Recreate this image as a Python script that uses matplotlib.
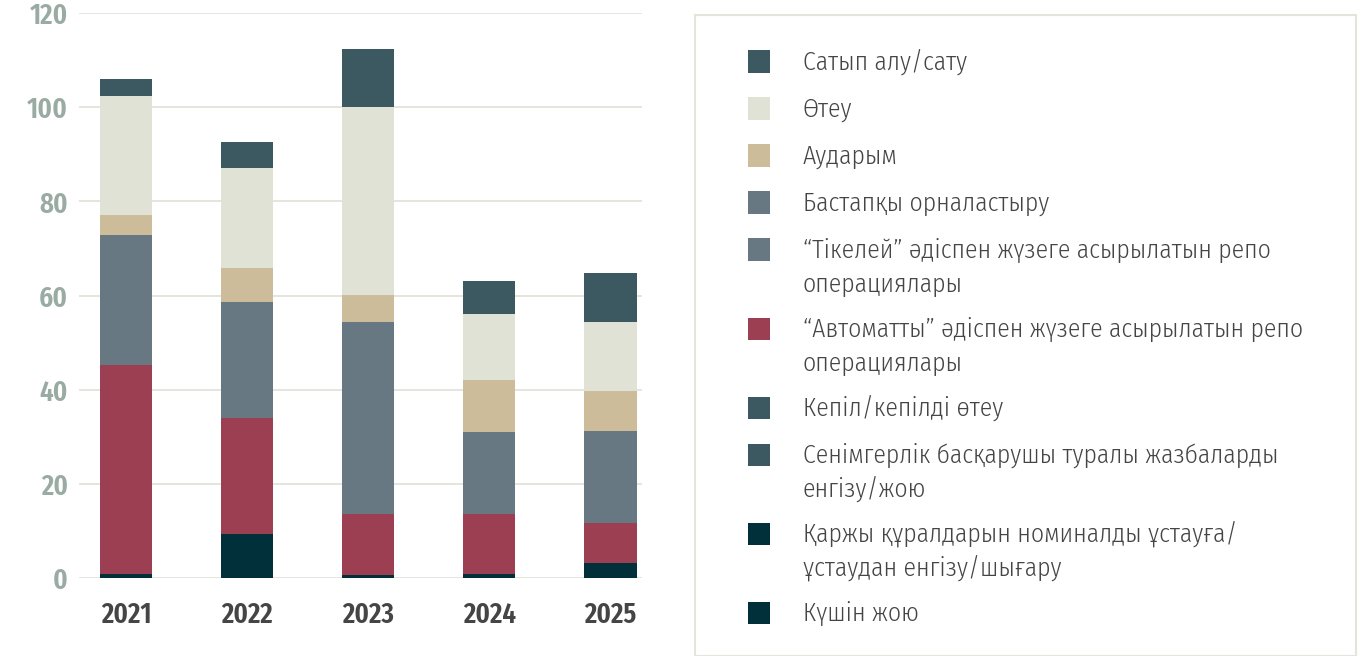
import matplotlib
matplotlib.use("Agg")
import matplotlib.pyplot as plt
from matplotlib.patches import Rectangle
import numpy as np

# ---------------- data ----------------
years = ["2021", "2022", "2023", "2024", "2025"]

# stacked bottom -> top
kushin_zhoyu   = [0.0, 0.0, 0.0, 0.0, 0.0]
qarzhy_nomin   = [0.8, 9.4, 0.6, 0.8, 3.1]
senimgerlik    = [0.0, 0.0, 0.0, 0.0, 0.0]
kepil          = [0.0, 0.0, 0.0, 0.0, 0.0]
avtomatty_repo = [44.4, 24.6, 13.0, 12.8, 8.5]
tikelei_repo   = [27.7, 24.7, 40.8, 17.4, 19.6]
bastapky       = [0.0, 0.0, 0.0, 0.0, 0.0]
audarym        = [4.3, 7.2, 5.7, 11.1, 8.5]
oteu           = [25.1, 21.1, 39.9, 14.0, 14.7]
satyp_alu      = [3.6, 5.7, 12.3, 7.0, 10.4]

# legend order (top -> bottom)
legend_labels = [
    "Сатып алу/сату",
    "Өтеу",
    "Аударым",
    "Бастапқы орналастыру",
    "“Тікелей” әдіспен жүзеге асырылатын репо\nоперациялары",
    "“Автоматты” әдіспен жүзеге асырылатын репо\nоперациялары",
    "Кепіл/кепілді өтеу",
    "Сенімгерлік басқарушы туралы жазбаларды\nенгізу/жою",
    "Қаржы құралдарын номиналды ұстауға/\nұстаудан енгізу/шығару",
    "Күшін жою",
]
legend_values = [satyp_alu, oteu, audarym, bastapky, tikelei_repo,
                 avtomatty_repo, kepil, senimgerlik, qarzhy_nomin, kushin_zhoyu]

TEAL, LIGHT, BEIGE, GREY, RED, DARK = "#3c5962", "#dfe2d5", "#cdbc99", "#677883", "#9c3f53", "#01303b"
legend_colors = [TEAL, LIGHT, BEIGE, GREY, GREY, RED, TEAL, TEAL, DARK, DARK]

yticks = [0, 20, 40, 60, 80, 100, 120]

# ---------------- fonts ----------------
TICK_FONT = ["Fira Sans Extra Condensed", "DejaVu Sans"]
LEG_FONT = ["Fira Sans Condensed", "DejaVu Sans"]
plt.rcParams["font.family"] = LEG_FONT

W, H = 1366, 656
fig = plt.figure(figsize=(W / 100, H / 100), dpi=100)
fig.patch.set_facecolor("white")

ax = fig.add_axes([79 / W, 1 - 578 / H, (642 - 79) / W, (578 - 13) / H])
x = np.arange(len(years))
bottom = np.zeros(len(years))
for vals, col in zip(legend_values[::-1], legend_colors[::-1]):
    v = np.array(vals)
    ax.bar(x, v, bottom=bottom, width=0.43, color=col, edgecolor="none", zorder=3)
    bottom += v

ax.set_xlim(-0.39, 4.26)
ax.set_ylim(0, 120)
ax.set_yticks(yticks)
ax.set_yticklabels([str(t) for t in yticks])
ax.set_xticks(x)
ax.set_xticklabels(years)
ax.grid(axis="y", color="#e2e4da", linewidth=1.3, zorder=0)
for s in ax.spines.values():
    s.set_visible(False)
ax.tick_params(axis="both", length=0)
ax.tick_params(axis="y", pad=8, labelcolor="#9aaba4")
ax.tick_params(axis="x", pad=16, labelcolor="#454545")
for lab in ax.get_yticklabels() + ax.get_xticklabels():
    lab.set_family(TICK_FONT)
    lab.set_fontweight(600)
    lab.set_fontsize(21)

# ---------------- legend box ----------------
fig.add_artist(Rectangle((695 / W, 0), (1356 - 695) / W, 1 - 15 / H,
                         transform=fig.transFigure, facecolor="none",
                         edgecolor="#e3e5da", linewidth=1.5))

y = 61.5
sq = 22
for lab, col in zip(legend_labels, legend_colors):
    fig.add_artist(Rectangle((748 / W, 1 - (y + sq / 2) / H), sq / W, sq / H,
                             transform=fig.transFigure, facecolor=col, edgecolor="none"))
    for i, line in enumerate(lab.split("\n")):
        fig.text(803 / W, 1 - (y + 8.5 + i * 33.5) / H, line, ha="left", va="baseline",
                 fontsize=18.5, fontweight=300, color="#454545")
    nlines = lab.count("\n") + 1
    y += 47 + (nlines - 1) * 32

fig.savefig("out.png", dpi=100, facecolor="white")
